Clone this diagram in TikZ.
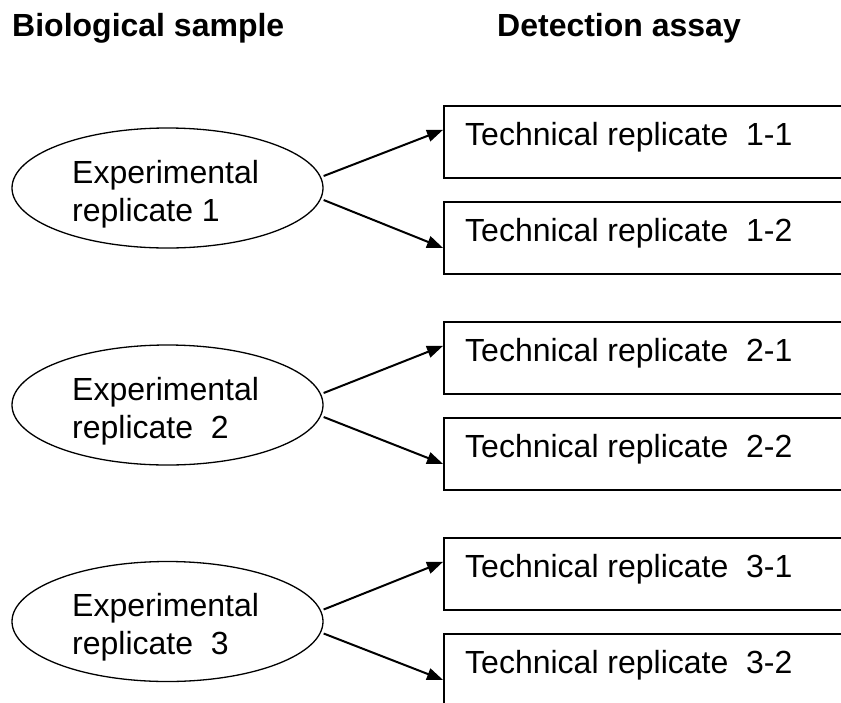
\documentclass[tikz,border=0pt]{standalone}
\usepackage{fontspec}
\setmainfont{Liberation Sans}
\usetikzlibrary{arrows.meta,shapes.geometric}
\begin{document}
\begin{tikzpicture}[x=1pt,y=-1pt,
  every node/.style={font=\fontsize{32pt}{37pt}\selectfont},
  title/.style={font=\fontsize{32pt}{37pt}\selectfont\bfseries, anchor=base west, inner sep=0pt},
  ell/.style={draw, ellipse, line width=1.3pt, minimum width=311pt, minimum height=120pt, inner sep=0pt},
  etext/.style={anchor=base west, inner sep=0pt},
  tbox/.style={draw, line width=1.8pt, rectangle, minimum height=72pt, minimum width=470pt, anchor=north west, inner sep=0pt},
  ttext/.style={anchor=base west, inner sep=0pt},
  conn/.style={-{Triangle[length=16pt,width=12pt]}, line width=2pt}
]
\useasboundingbox (0,0) rectangle (841,702);
\clip (0,0) rectangle (841,702);

\node[title] (h1) at (12,36) {Biological sample};
\node[title] (h2) at (497,36) {Detection assay};

% ellipses
\node[ell] (e1) at (167.5,188) {};
\node[ell] (e2) at (167.5,405) {};
\node[ell] (e3) at (167.5,621.5) {};

\node[etext] (e1a) at ([xshift=-95.5pt,yshift=5pt]e1.center) {Experimental};
\node[etext] (e1b) at ([xshift=-95.5pt,yshift=-33pt]e1.center) {replicate 1};
\node[etext] (e2a) at ([xshift=-95.5pt,yshift=5pt]e2.center) {Experimental};
\node[etext] (e2b) at ([xshift=-95.5pt,yshift=-33pt]e2.center) {replicate\ \ 2};
\node[etext] (e3a) at ([xshift=-95.5pt,yshift=5pt]e3.center) {Experimental};
\node[etext] (e3b) at ([xshift=-95.5pt,yshift=-33pt]e3.center) {replicate\ \ 3};

% boxes
\node[tbox] (b11) at (443,105) {};
\node[tbox] (b12) at (443,201) {};
\node[tbox] (b21) at (443,321) {};
\node[tbox] (b22) at (443,417) {};
\node[tbox] (b31) at (443,537) {};
\node[tbox] (b32) at (443,633) {};

\node[ttext] (t11) at ([xshift=22pt,yshift=-40pt]b11.north west) {Technical replicate\ \ 1-1};
\node[ttext] (t12) at ([xshift=22pt,yshift=-40pt]b12.north west) {Technical replicate\ \ 1-2};
\node[ttext] (t21) at ([xshift=22pt,yshift=-40pt]b21.north west) {Technical replicate\ \ 2-1};
\node[ttext] (t22) at ([xshift=22pt,yshift=-40pt]b22.north west) {Technical replicate\ \ 2-2};
\node[ttext] (t31) at ([xshift=22pt,yshift=-40pt]b31.north west) {Technical replicate\ \ 3-1};
\node[ttext] (t32) at ([xshift=22pt,yshift=-40pt]b32.north west) {Technical replicate\ \ 3-2};

% connectors
\draw[conn] ([yshift=12pt]e1.east) -- ([yshift=12pt]b11.west);
\draw[conn] ([yshift=-12pt]e1.east) -- ([yshift=-10pt]b12.west);
\draw[conn] ([yshift=12pt]e2.east) -- ([yshift=12pt]b21.west);
\draw[conn] ([yshift=-12pt]e2.east) -- ([yshift=-10pt]b22.west);
\draw[conn] ([yshift=12pt]e3.east) -- ([yshift=12pt]b31.west);
\draw[conn] ([yshift=-12pt]e3.east) -- ([yshift=-10pt]b32.west);
\end{tikzpicture}
\end{document}
